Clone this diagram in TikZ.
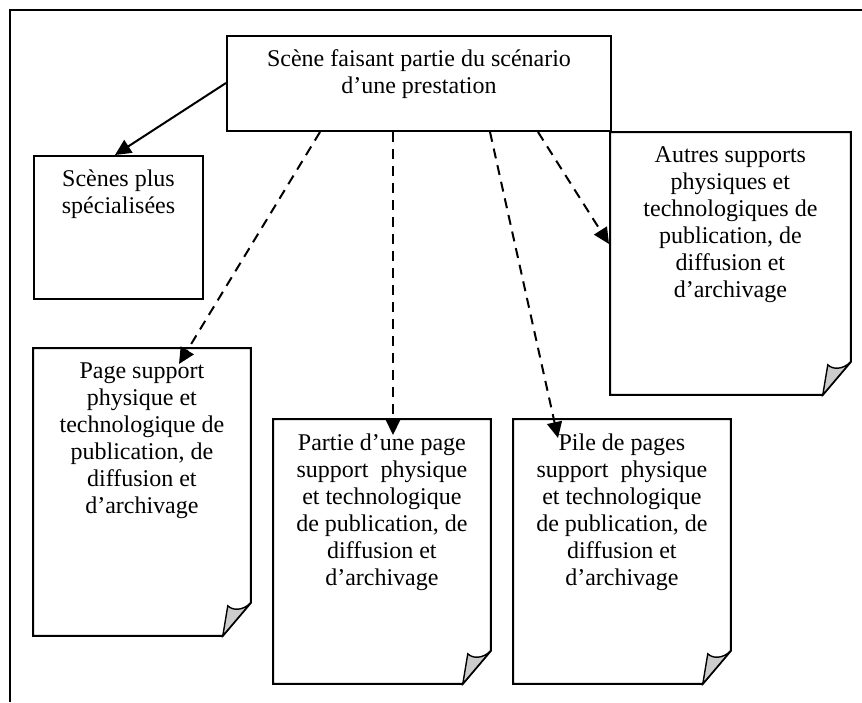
\documentclass[tikz,border=0pt]{standalone}
\usepackage{fontspec}
\setmainfont{Liberation Serif}
\usetikzlibrary{arrows.meta, positioning, calc}

\begin{document}
\begin{tikzpicture}[
    x=0.5pt, y=-0.5pt,
    box/.style={rectangle, draw, line width=1pt, anchor=north west, inner sep=0pt},
    page/.style={rectangle, anchor=north west, inner sep=0pt},
    txt/.style={align=center, inner sep=0pt, font=\fontsize{12}{13.5}\selectfont, execute at begin node={\strut}},
    arrow/.style={-{Triangle[length=8pt, width=7.5pt]}, line width=1pt},
    dasharrow/.style={arrow, dash pattern=on 5pt off 3.5pt},
]
\useasboundingbox (0,0) rectangle (862,702);

% frame
\draw[line width=0.75pt] (10,702) -- (10,10) -- (862,10);

% boxes
\node[box, minimum width=192pt, minimum height=47.5pt] (scene) at (226,35) {};
\node[box, minimum width=84.5pt, minimum height=71.5pt] (special) at (33,155) {};

% pages
\node[page, minimum width=108.5pt, minimum height=143.5pt] (page) at (33,348) {};
\node[page, minimum width=108.5pt, minimum height=132pt] (partie) at (273,419) {};
\node[page, minimum width=108.5pt, minimum height=132pt] (pile) at (513,419) {};
\node[page, minimum width=120pt, minimum height=131pt] (autres) at (610,132) {};

\foreach \p in {page,partie,pile,autres} {
  \draw[line width=1pt] (\p.north west) -- (\p.north east) -- ($(\p.south east)+(0,-33)$)
      -- ($(\p.south east)+(-28,0)$) -- (\p.south west) -- cycle;
  \filldraw[fill=gray!40, line width=0.7pt] ($(\p.south east)+(-28,0)$) -- ++(5,-30)
      .. controls +(5,5) and +(-8,8) .. ($(\p.south east)+(0,-33)$) -- cycle;
}

% texts
\node[txt, below=7pt of scene.north] (scene-txt) {Scène faisant partie du scénario\\d’une prestation};
\node[txt, below=7pt of special.north] (special-txt) {Scènes plus\\spécialisées};
\node[txt, below=7pt of page.north] (page-txt) {Page support\\physique et\\technologique de\\publication, de\\diffusion et\\d’archivage};
\node[txt, below=7pt of partie.north] (partie-txt) {Partie d’une page\\support\ \ physique\\et technologique\\de publication, de\\diffusion et\\d’archivage};
\node[txt, below=7pt of pile.north] (pile-txt) {Pile de pages\\support\ \ physique\\et technologique\\de publication, de\\diffusion et\\d’archivage};
\node[txt, below=7pt of autres.north] (autres-txt) {Autres supports\\physiques et\\technologiques de\\publication, de\\diffusion et\\d’archivage};

% links
\draw[arrow] ($(scene.north west)+(0,48)$) -- ($(special.north west)+(82,0)$);
\draw[dasharrow] ($(scene.south west)+(94,0)$) -- ($(page.north west)+(146,16)$);
\draw[dasharrow] ($(scene.south west)+(167,0)$) -- ($(partie.north west)+(120,16)$);
\draw[dasharrow] ($(scene.south west)+(264,0)$) -- ($(pile.north west)+(45,19)$);
\draw[dasharrow] ($(scene.south west)+(312,0)$) -- ($(autres.north west)+(-1,112)$);

\end{tikzpicture}
\end{document}
